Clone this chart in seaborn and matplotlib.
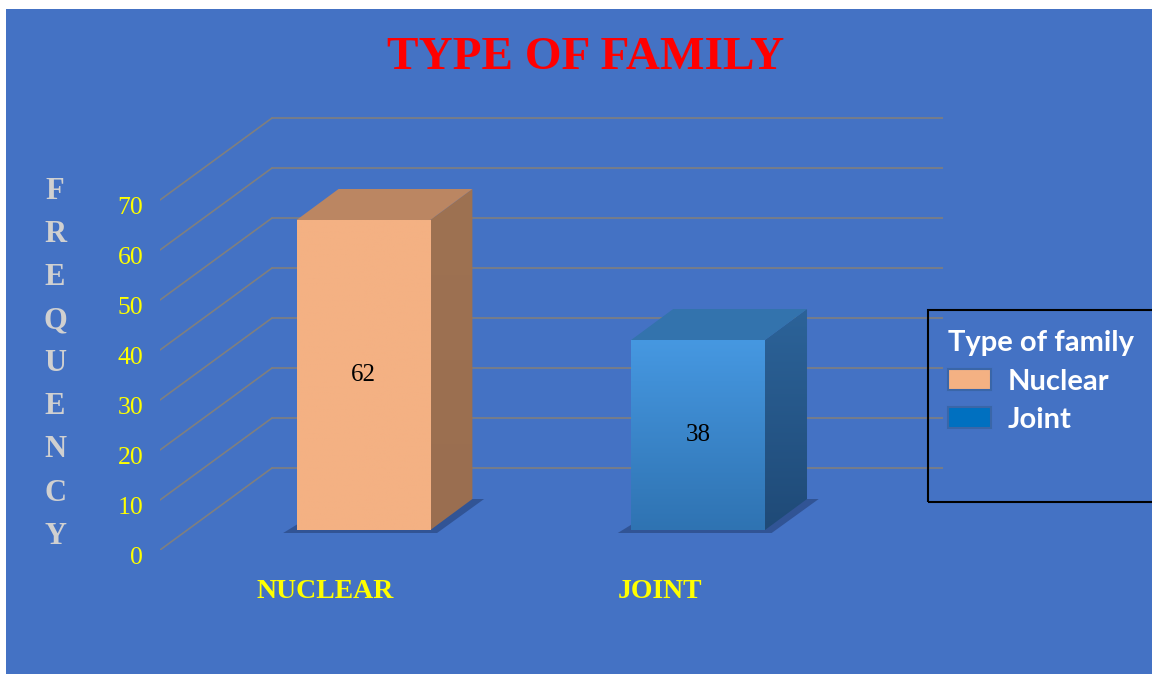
import numpy as np
import pandas as pd
import matplotlib
matplotlib.use("Agg")
import matplotlib.pyplot as plt
import matplotlib.transforms as mtransforms
from matplotlib.patches import Polygon, Rectangle, Patch
from matplotlib.colors import LinearSegmentedColormap
import seaborn as sns

# data
categories = ["NUCLEAR", "JOINT"]
legend_labels = ["Nuclear", "Joint"]
frequency = [62, 38]
y_ticks = [0, 10, 20, 30, 40, 50, 60, 70]

# styles
BLUE = "#4472C4"
YELLOW = "#FFFF00"
SERIF = "Liberation Serif"
legend_colors = ["#F4B183", "#0070C0"]
front_top = ["#F4B183", "#4698E1"]
front_bot = ["#F4B183", "#2F73B2"]
side_top = ["#9E7252", "#2C6399"]
side_bot = ["#9A6E50", "#1F4A77"]
top_col = ["#BB8662", "#3373AD"]

DX, DY = 0.1256, 6.2      # bar depth (data units)
BX, BY = 0.3348, 16.4     # wall depth
BAR_BASE = 4

sns.set_style("white")
fig = plt.figure(figsize=(11.52, 6.8), dpi=100)
fig.patch.set_facecolor("white")
fig.patches.append(Rectangle((6 / 1152, 6 / 680), 1146 / 1152, 665 / 680,
                             transform=fig.transFigure, facecolor=BLUE,
                             edgecolor="none", zorder=-10))

ax = fig.add_axes([160 / 1152, 130 / 680, 783 / 1152, 433 / 680])
ax.set_facecolor("none")

df = pd.DataFrame({"type": categories, "freq": frequency})
sns.barplot(data=df, x="type", y="freq", hue="type",
            palette=dict(zip(categories, front_top)), width=0.4,
            bottom=BAR_BASE, saturation=1, legend=False, ax=ax, zorder=4,
            edgecolor="none")

XMIN, XMAX = -0.608, 1.732
YMIN, YMAX = 0, 86.6


def shade(verts, c_top, c_bot, z, clip=None):
    if clip is None:
        clip = Polygon(verts, closed=True, facecolor="none", edgecolor="none")
        ax.add_patch(clip)
    xs, ys = zip(*verts)
    cmap = LinearSegmentedColormap.from_list("g", [c_bot, c_top])
    grad = np.linspace(0, 1, 256).reshape(-1, 1)
    im = ax.imshow(grad, extent=[min(xs), max(xs), min(ys), max(ys)],
                   origin="lower", cmap=cmap, aspect="auto", zorder=z,
                   interpolation="bilinear")
    im.set_clip_path(clip)


# back wall grid + slanted floor lines
for v in y_ticks:
    ax.plot([XMIN, XMIN + BX], [v, v + BY], color="#7F7F7F", lw=1.2, zorder=1)
    ax.plot([XMIN + BX, XMAX], [v + BY, v + BY], color="#7F7F7F", lw=1.2, zorder=1)

bars = list(ax.patches)
for i, p in enumerate(bars):
    x0, w, b, h = p.get_x(), p.get_width(), p.get_y(), p.get_height()
    x1 = x0 + w
    # base shadow
    ax.add_patch(Polygon([(x0 - 0.04, b - 0.6), (x1 + 0.02, b - 0.6),
                          (x1 + DX + 0.035, b + DY), (x0 + DX, b + DY)],
                         closed=True, facecolor="#2B4A86", alpha=0.75,
                         edgecolor="none", zorder=2))
    # front face gradient
    shade([(x0, b), (x1, b), (x1, b + h), (x0, b + h)],
          front_top[i], front_bot[i], 4.5, clip=p)
    # side face
    shade([(x1, b), (x1 + DX, b + DY), (x1 + DX, b + h + DY), (x1, b + h)],
          side_top[i], side_bot[i], 3)
    # top face
    ax.add_patch(Polygon([(x0, b + h), (x1, b + h), (x1 + DX, b + h + DY),
                          (x0 + DX, b + h + DY)], closed=True,
                         facecolor=top_col[i], edgecolor="none", zorder=3))
    ax.text(x0 + w / 2, b + h / 2, str(frequency[i]), ha="center", va="center",
            fontsize=18, family=SERIF, color="black", zorder=6)

ax.set_xlim(XMIN, XMAX)
ax.set_ylim(YMIN, YMAX)
for s in ax.spines.values():
    s.set_visible(False)

ax.set_yticks(y_ticks)
ax.set_yticklabels([str(t) for t in y_ticks], family=SERIF, fontsize=18.5,
                   color=YELLOW)
ax.tick_params(axis="y", length=0, pad=12)
ax.set_xticks(np.arange(len(categories)) - 0.115)
ax.set_xticklabels(categories, family=SERIF, fontsize=20, fontweight="bold", color=YELLOW)
ax.tick_params(axis="x", length=0, pad=21)
ax.set_xlabel("")
# labels sit a little below their gridline in the original
shift = mtransforms.ScaledTranslation(0, -5 / 100, fig.dpi_scale_trans)
for lab in ax.get_yticklabels():
    lab.set_transform(lab.get_transform() + shift)

ax.set_ylabel("\n".join("FREQUENCY"), rotation=0, family=SERIF, fontsize=22,
              fontweight="bold", color="#D0D0D0", linespacing=1.64,
              ha="center", va="center")
ax.yaxis.set_label_coords(-0.134, 0.43)

fig.text(586 / 1152, 1 - 58 / 680, "TYPE OF FAMILY", color="#FF0000",
         fontsize=34, fontweight="bold", family=SERIF, ha="center", va="center")

# legend
fig.patches.append(Rectangle((928 / 1152, (680 - 502) / 680), 300 / 1152, 192 / 680,
                             transform=fig.transFigure, fill=False,
                             edgecolor="black", lw=1.5, zorder=5))
handles = [Patch(facecolor=c, edgecolor="#3A66A8", lw=1.5) for c in legend_colors]
leg = fig.legend(handles, legend_labels, title="Type of family", loc="upper left",
                 bbox_to_anchor=(922 / 1152, 1 - 304 / 680), frameon=False,
                 prop=dict(family="Lato", weight="bold", size=21),
                 title_fontproperties=dict(family="Lato", weight="bold", size=21),
                 labelcolor="white", handlelength=1.45, handleheight=0.75,
                 handletextpad=0.6, labelspacing=0.42, alignment="left")
leg.get_title().set_color("white")

fig.savefig("out.png", dpi=100)
